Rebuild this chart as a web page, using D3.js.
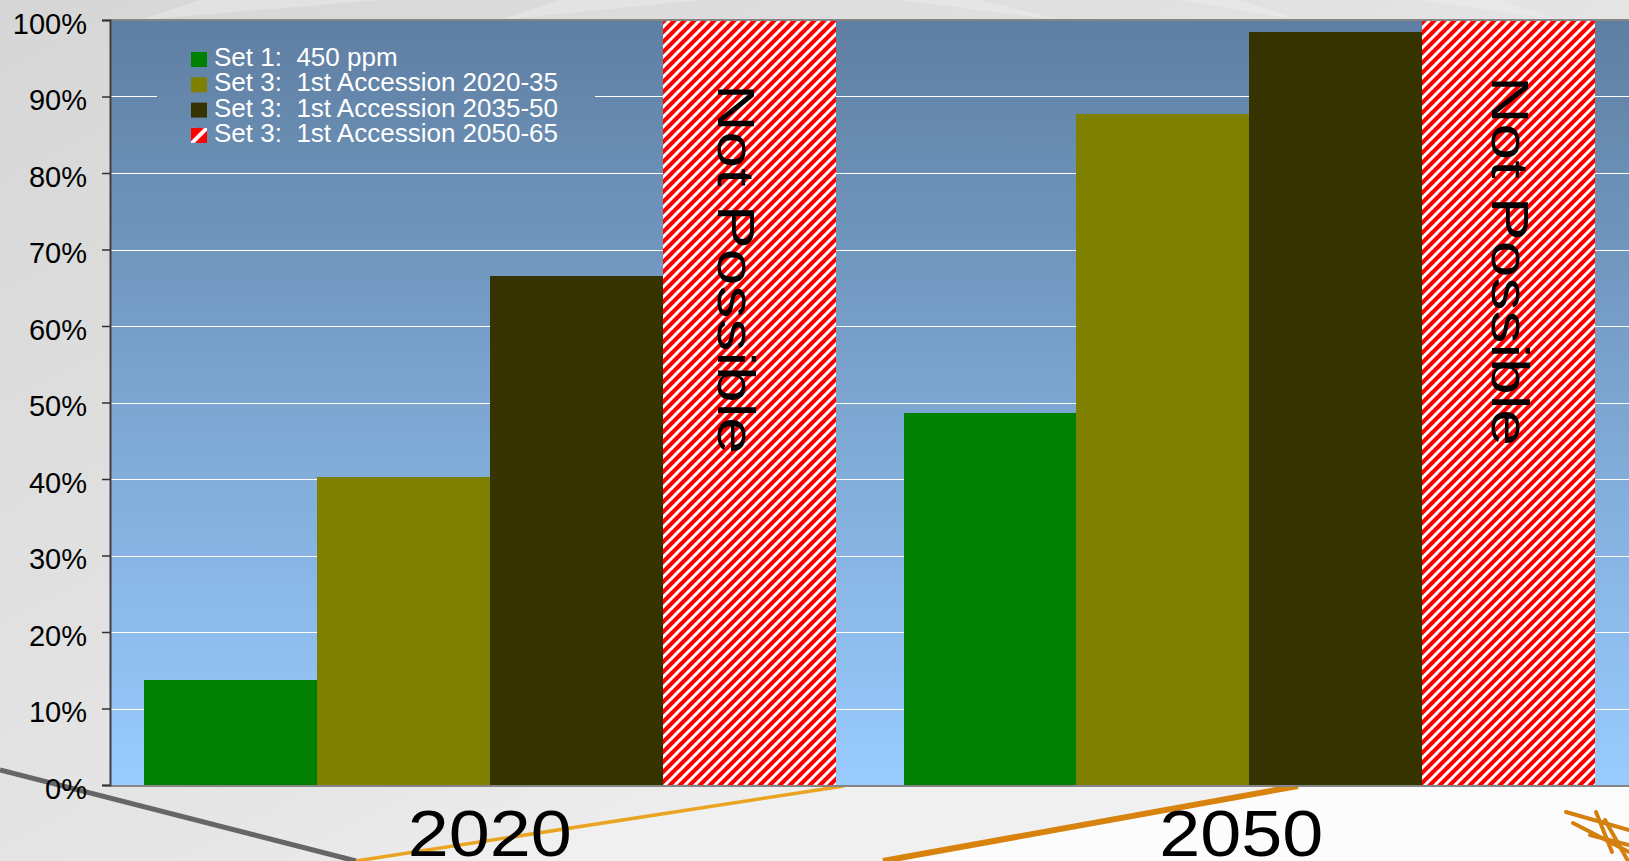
<!DOCTYPE html>
<html>
<head>
<meta charset="utf-8">
<script src="https://cdn.jsdelivr.net/npm/d3@7"></script>
<style>
  html, body { margin: 0; padding: 0; background: #e4e4e4; }
  svg { display: block; }
  text { font-family: "Liberation Sans", Arial, sans-serif; }
</style>
</head>
<body>
<svg id="chart" width="1629" height="861"></svg>
<script>
// ---------------- DATA ----------------
const categories = ["2020", "2050"];
const seriesNames = [
  "Set 1:  450 ppm",
  "Set 3:  1st Accession 2020-35",
  "Set 3:  1st Accession 2035-50",
  "Set 3:  1st Accession 2050-65"
];
const set1_450ppm      = [0.137, 0.486];
const set3_2020_35     = [0.402, 0.877];
const set3_2035_50     = [0.666, 0.984];
const set3_2050_65     = [null, null];          // not possible -> hatched full bar
const notPossibleLabel = "Not Possible";
const yTickValues = [0, 0.1, 0.2, 0.3, 0.4, 0.5, 0.6, 0.7, 0.8, 0.9, 1.0];
const seriesColors = ["#008000", "#808000", "#363300", "url(#hatch)"];

// ---------------- LAYOUT ----------------
const W = 1629, H = 861;
const plot = { left: 110, right: 1629, top: 20, bottom: 785 };
const svg = d3.select("#chart");
const defs = svg.append("defs");

// background gradient
const bg = defs.append("linearGradient").attr("id", "bgGrad")
  .attr("x1", "0").attr("y1", "0").attr("x2", "1").attr("y2", "1");
bg.append("stop").attr("offset", "0%").attr("stop-color", "#d6d6d6");
bg.append("stop").attr("offset", "55%").attr("stop-color", "#e6e6e6");
bg.append("stop").attr("offset", "100%").attr("stop-color", "#ffffff");

// plot gradient
const pg = defs.append("linearGradient").attr("id", "plotGrad")
  .attr("gradientUnits", "userSpaceOnUse")
  .attr("x1", 0).attr("y1", plot.top).attr("x2", 0).attr("y2", plot.bottom);
pg.append("stop").attr("offset", "0%").attr("stop-color", "#5f7fa2");
pg.append("stop").attr("offset", "100%").attr("stop-color", "#99ccff");

// hatch pattern
const hp = defs.append("pattern").attr("id", "hatch")
  .attr("patternUnits", "userSpaceOnUse").attr("width", 10).attr("height", 10);
hp.append("rect").attr("width", 10).attr("height", 10).attr("fill", "#ff0000");
hp.append("path").attr("d", "M-2.5,2.5 L2.5,-2.5 M0,10 L10,0 M7.5,12.5 L12.5,7.5")
  .attr("stroke", "#ffffff").attr("stroke-width", 3);

const hpL = defs.append("pattern").attr("id", "hatchLegend")
  .attr("patternUnits", "userSpaceOnUse").attr("width", 16).attr("height", 16);
hpL.append("rect").attr("width", 16).attr("height", 16).attr("fill", "#ff0000");
hpL.append("path").attr("d", "M0,16 L16,0").attr("stroke", "#ffffff").attr("stroke-width", 4);

// ---------------- BACKGROUND ----------------
svg.append("rect").attr("width", W).attr("height", H).attr("fill", "url(#bgGrad)");
// faint decorative shapes at top
const deco = svg.append("g").attr("opacity", 0.35);
[[200, 0, 380, 0, 140, 20], [560, 0, 700, 0, 500, 20], [900, 0, 980, 0, 1060, 20],
 [1180, 0, 1240, 0, 1300, 20], [1420, 0, 1500, 0, 1560, 20]].forEach(p => {
  deco.append("path").attr("d", `M${p[0]},${p[1]} L${p[2]},${p[3]} L${p[4]},${p[5]} Z`)
    .attr("fill", "#f4f4f4");
});
// bottom light zone
svg.append("path").attr("d", "M356,861 L844,786 L1629,786 L1629,861 Z").attr("fill", "#f0f0f0");
svg.append("path").attr("d", "M883,861 L1298,786 L1629,786 L1629,861 Z").attr("fill", "#fcfcfc");
// decorative lines
svg.append("line").attr("x1", 0).attr("y1", 770).attr("x2", 356).attr("y2", 861)
  .attr("stroke", "#666666").attr("stroke-width", 5);
svg.append("line").attr("x1", 356).attr("y1", 861).attr("x2", 844).attr("y2", 786)
  .attr("stroke", "#e9a521").attr("stroke-width", 3.5);
svg.append("line").attr("x1", 883).attr("y1", 861).attr("x2", 1298).attr("y2", 786)
  .attr("stroke", "#d9830f").attr("stroke-width", 6);
// logo scribble
const logo = svg.append("g").attr("stroke", "#d4800e").attr("stroke-width", 4).attr("stroke-linecap", "round");
[[1566, 812, 1629, 830], [1573, 823, 1629, 852], [1590, 835, 1629, 845], [1596, 812, 1612, 852], [1605, 820, 1628, 861]]
  .forEach(l => logo.append("line").attr("x1", l[0]).attr("y1", l[1]).attr("x2", l[2]).attr("y2", l[3]));

// ---------------- SCALES ----------------
const x0 = d3.scaleBand().domain(categories).range([plot.left, plot.right])
  .paddingInner(0.0896).paddingOuter(0.0448);
const x1 = d3.scaleBand().domain(d3.range(seriesNames.length)).range([0, x0.bandwidth()]).padding(0);
const y = d3.scaleLinear().domain([0, 1]).range([plot.bottom, plot.top]);

// plot area
svg.append("rect").attr("x", plot.left).attr("y", plot.top)
  .attr("width", plot.right - plot.left).attr("height", plot.bottom - plot.top)
  .attr("fill", "url(#plotGrad)");

// gridlines
svg.append("g").selectAll("line").data(yTickValues.filter(v => v > 0 && v < 1)).join("line")
  .attr("x1", plot.left).attr("x2", plot.right)
  .attr("y1", d => Math.round(y(d)) + 0.5).attr("y2", d => Math.round(y(d)) + 0.5)
  .attr("stroke", "#ffffff").attr("stroke-width", 1.2);

// legend box (same gradient, hides gridline)
const legend = svg.append("g");
legend.append("rect").attr("x", 157).attr("y", 40).attr("width", 438).attr("height", 112)
  .attr("fill", "url(#plotGrad)");

// ---------------- BARS ----------------
const allSeries = [set1_450ppm, set3_2020_35, set3_2035_50, set3_2050_65];
const barData = [];
categories.forEach((c, ci) => {
  allSeries.forEach((s, si) => {
    barData.push({ cat: c, ci, si, value: s[ci], notPossible: s[ci] === null });
  });
});
const bars = svg.append("g").attr("shape-rendering", "crispEdges");
bars.selectAll("rect").data(barData).join("rect")
  .attr("x", d => x0(d.cat) + x1(d.si))
  .attr("width", x1.bandwidth() + 0.5)
  .attr("y", d => d.notPossible ? y(1) : y(d.value))
  .attr("height", d => d.notPossible ? y(0) - y(1) : y(0) - y(d.value))
  .attr("fill", d => seriesColors[d.si]);

// "Not Possible" labels
const npLayout = [{ dx: -31, y: 84 }, { dx: -17, y: 76 }];
svg.append("g").selectAll("text").data(barData.filter(d => d.notPossible)).join("text")
  .attr("transform", d => {
    const cx = x0(d.cat) + x1(d.si) + x1.bandwidth() / 2 + npLayout[d.ci].dx;
    return `translate(${cx},${npLayout[d.ci].y}) rotate(90)`;
  })
  .attr("font-size", 52)
  .attr("fill", "#000")
  .attr("textLength", 370)
  .attr("lengthAdjust", "spacingAndGlyphs")
  .text(notPossibleLabel);

// ---------------- AXES ----------------
// top border
svg.append("line").attr("x1", plot.left).attr("x2", plot.right)
  .attr("y1", plot.top).attr("y2", plot.top).attr("stroke", "#858585").attr("stroke-width", 2);
// bottom axis line
svg.append("line").attr("x1", plot.left).attr("x2", plot.right)
  .attr("y1", plot.bottom + 1).attr("y2", plot.bottom + 1).attr("stroke", "#858585").attr("stroke-width", 2);

const yAxis = svg.append("g").attr("transform", `translate(${plot.left},0)`)
  .call(d3.axisLeft(y).tickValues(yTickValues).tickFormat(d3.format(".0%")).tickSize(8).tickPadding(15));
yAxis.select(".domain").attr("stroke", "#404040").attr("stroke-width", 2);
yAxis.selectAll(".tick line").attr("stroke", "#303030").attr("stroke-width", 1.5);
yAxis.selectAll(".tick text").attr("font-size", 29).attr("fill", "#000")
  .attr("font-family", "'Liberation Sans', Arial, sans-serif").attr("dy", "0.45em");

const catLabelDx = [0, -8];
const xAxis = svg.append("g").attr("transform", `translate(0,${plot.bottom})`)
  .call(d3.axisBottom(x0).tickSize(0));
xAxis.select(".domain").remove();
xAxis.selectAll(".tick text").attr("font-size", 64).attr("fill", "#000")
  .attr("font-family", "'Liberation Sans', Arial, sans-serif")
  .attr("x", (d, i) => catLabelDx[i])
  .attr("y", 71).attr("dy", 0)
  .attr("textLength", 164).attr("lengthAdjust", "spacingAndGlyphs");

// ---------------- LEGEND ----------------
const legendFills = ["#008000", "#808000", "#363300", "url(#hatchLegend)"];
const li = legend.selectAll("g.item").data(seriesNames).join("g").attr("class", "item")
  .attr("transform", (d, i) => `translate(191,${52 + i * 25.3})`);
li.append("rect").attr("width", 16).attr("height", 15).attr("fill", (d, i) => legendFills[i]);
li.append("text").attr("x", 23).attr("y", 14).attr("font-size", 26).attr("fill", "#ffffff")
  .style("white-space", "pre").text(d => d);
</script>
</body>
</html>
